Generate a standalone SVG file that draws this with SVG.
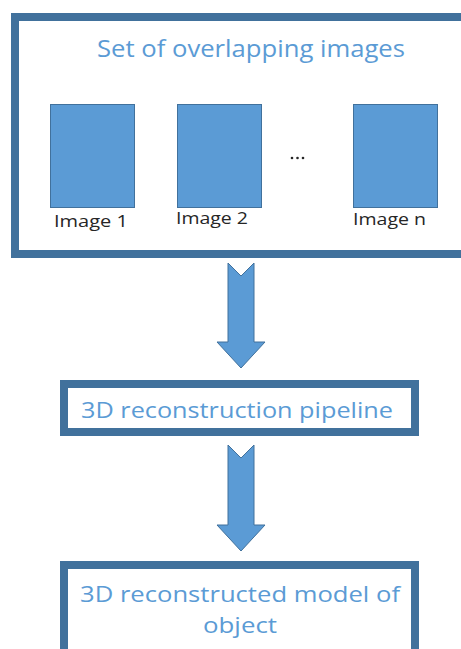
<svg xmlns="http://www.w3.org/2000/svg" width="461" height="649" viewBox="0 0 461 649">
  <style>
    .frame { fill: #ffffff; stroke: #41719c; stroke-width: 8; }
    .img { fill: #5b9bd5; stroke: #41719c; stroke-width: 1; }
    .arrow { fill: #5b9bd5; stroke: #41719c; stroke-width: 1; stroke-linejoin: miter; }
    .title { font-family: "Open Sans", "Noto Sans", sans-serif; fill: #5b9bd5; text-anchor: start; }
    .label { font-family: "Open Sans", "Noto Sans", sans-serif; font-size: 17px; fill: #262626; }
  </style>
  <rect width="461" height="649" fill="#ffffff"/>

  <!-- input set of images -->
  <g id="image-set">
    <rect class="frame" x="15" y="17" width="460" height="237"/>
    <text class="title" x="97" y="57" font-size="24" textLength="308" lengthAdjust="spacingAndGlyphs">Set of overlapping images</text>
    <g id="image-1">
      <rect class="img" x="50.5" y="104.5" width="84" height="103"/>
      <text class="label" x="54" y="227" textLength="74" lengthAdjust="spacingAndGlyphs">Image 1</text>
    </g>
    <g id="image-2">
      <rect class="img" x="177.5" y="104.5" width="84" height="103"/>
      <text class="label" x="176" y="224" textLength="72" lengthAdjust="spacingAndGlyphs">Image 2</text>
    </g>
    <g id="ellipsis">
      <circle cx="292" cy="158" r="1.3" fill="#262626"/>
      <circle cx="297.5" cy="158" r="1.3" fill="#262626"/>
      <circle cx="303" cy="158" r="1.3" fill="#262626"/>
    </g>
    <g id="image-n">
      <rect class="img" x="353.5" y="104.5" width="84" height="103"/>
      <text class="label" x="353" y="225" textLength="73" lengthAdjust="spacingAndGlyphs">Image n</text>
    </g>
  </g>

  <!-- processing stage -->
  <g id="pipeline">
    <rect class="frame" x="64" y="384" width="351" height="48"/>
    <text class="title" x="81" y="418" font-size="22" textLength="312" lengthAdjust="spacingAndGlyphs">3D reconstruction pipeline</text>
  </g>

  <!-- result -->
  <g id="model">
    <rect class="frame" x="64" y="565" width="351" height="92"/>
    <text class="title" x="80" y="602" font-size="22" textLength="320" lengthAdjust="spacingAndGlyphs">3D reconstructed model of</text>
    <text class="title" x="203" y="633" font-size="22" textLength="74" lengthAdjust="spacingAndGlyphs">object</text>
  </g>

  <!-- block arrows between stages -->
  <g id="connectors">
    <polygon class="arrow" points="228,263 241,276 254,263 254,342 265,342 241,368 217,342 228,342"/>
    <polygon class="arrow" points="228,445 241,458 254,445 254,525 265,525 241,551 217,525 228,525"/>
  </g>
</svg>
